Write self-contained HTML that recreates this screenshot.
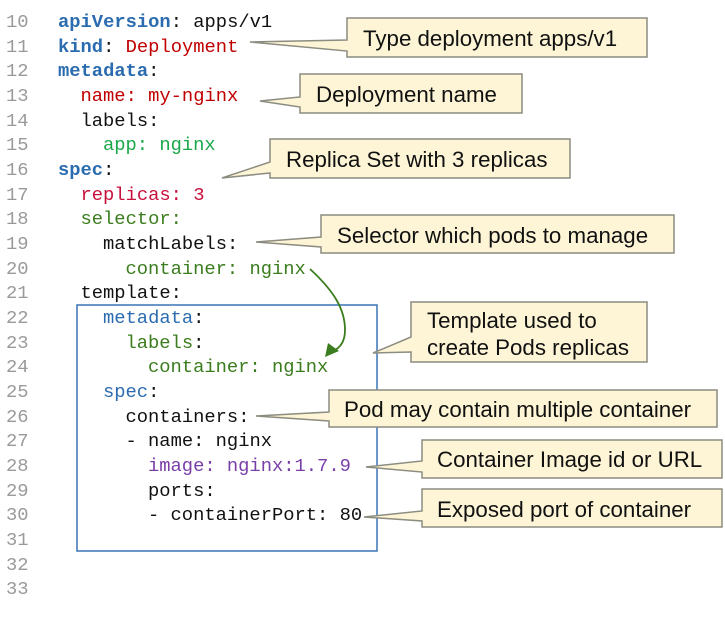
<!DOCTYPE html>
<html><head><meta charset="utf-8"><style>
html,body{margin:0;padding:0;background:#fff;width:725px;height:625px;overflow:hidden}
svg{display:block}
.c{font-family:"Liberation Mono",monospace;font-size:18.8px}
.n{fill:#9a9a9a}
.t{font-family:"Liberation Sans",Arial,sans-serif;font-size:22.3px;fill:#111}
.cb{fill:#fdf5d6;stroke:#8c8c80;stroke-width:1.5}
</style></head><body>
<svg width="725" height="625" viewBox="0 0 725 625" xmlns="http://www.w3.org/2000/svg">
<g class="c n">
<text x="6" y="27">10</text><text x="6" y="52">11</text><text x="6" y="76">12</text><text x="6" y="101">13</text>
<text x="6" y="126">14</text><text x="6" y="150">15</text><text x="6" y="175">16</text><text x="6" y="200">17</text>
<text x="6" y="224">18</text><text x="6" y="249">19</text><text x="6" y="274">20</text><text x="6" y="298">21</text>
<text x="6" y="323">22</text><text x="6" y="348">23</text><text x="6" y="372">24</text><text x="6" y="397">25</text>
<text x="6" y="422">26</text><text x="6" y="446">27</text><text x="6" y="471">28</text><text x="6" y="496">29</text>
<text x="6" y="520">30</text><text x="6" y="545">31</text><text x="6" y="570">32</text><text x="6" y="594">33</text>
</g>
<g class="c" fill="#111" xml:space="preserve">
<text x="58" y="27"><tspan fill="#2b6cb0" font-weight="bold">apiVersion</tspan>: apps/v1</text>
<text x="58" y="52"><tspan fill="#2b6cb0" font-weight="bold">kind</tspan>: <tspan fill="#c00000">Deployment</tspan></text>
<text x="58" y="76"><tspan fill="#2b6cb0" font-weight="bold">metadata</tspan>:</text>
<text x="80.5" y="101" fill="#c00000">name: my-nginx</text>
<text x="80.5" y="126">labels:</text>
<text x="103" y="150" fill="#1aa84a">app: nginx</text>
<text x="58" y="175"><tspan fill="#2b6cb0" font-weight="bold">spec</tspan>:</text>
<text x="80.5" y="200" fill="#c8103c">replicas: 3</text>
<text x="80.5" y="224" fill="#3b7d1e">selector:</text>
<text x="103" y="249">matchLabels:</text>
<text x="125.5" y="274" fill="#3b7d1e">container: nginx</text>
<text x="80.5" y="298">template:</text>
<text x="103" y="323"><tspan fill="#2b6cb0">metadata</tspan>:</text>
<text x="125.5" y="348"><tspan fill="#3b7d1e">labels</tspan>:</text>
<text x="148" y="372" fill="#3b7d1e">container: nginx</text>
<text x="103" y="397"><tspan fill="#2b6cb0">spec</tspan>:</text>
<text x="125.5" y="422">containers:</text>
<text x="125.5" y="446">- name: nginx</text>
<text x="148" y="471" fill="#7a3ea8">image: nginx:1.7.9</text>
<text x="148" y="496">ports:</text>
<text x="148" y="520">- containerPort: 80</text>
</g>
<rect x="77" y="305" width="300" height="246" fill="none" stroke="#3a74b8" stroke-width="1.5"/>
<path d="M310,269 C335,292 345,310 345,330 C345,342 340,348 333,351" fill="none" stroke="#3b7d1e" stroke-width="1.8"/>
<polygon points="325,357 328,343 339,351" fill="#3b7d1e"/>
<polygon class="cb" points="347,18 647,18 647,57 347,57 347,51 250,42 347,40"/>
<text class="t" x="363" y="46">Type deployment apps/v1</text>
<polygon class="cb" points="300,74 522,74 522,113 300,113 300,107 260,101 300,97"/>
<text class="t" x="316" y="102">Deployment name</text>
<polygon class="cb" points="270,139 570,139 570,178 270,178 270,173 222,178 270,162"/>
<text class="t" x="286" y="167">Replica Set with 3 replicas</text>
<polygon class="cb" points="321,215 674,215 674,253 321,253 321,247 256,242 321,237"/>
<text class="t" x="337" y="243">Selector which pods to manage</text>
<polygon class="cb" points="411,302 647,302 647,362 411,362 411,352 373,353 411,337"/>
<text class="t" x="427" y="328">Template used to</text>
<text class="t" x="427" y="355">create Pods replicas</text>
<polygon class="cb" points="329,390 717,390 717,427 329,427 329,421 256,416 329,412"/>
<text class="t" x="344" y="417">Pod may contain multiple container</text>
<polygon class="cb" points="422,440 722,440 722,478 422,478 422,472 366,467 422,461"/>
<text class="t" x="437" y="467">Container Image id or URL</text>
<polygon class="cb" points="422,489 722,489 722,527 422,527 422,521 364,517 422,511"/>
<text class="t" x="437" y="517">Exposed port of container</text>
</svg>
</body></html>
